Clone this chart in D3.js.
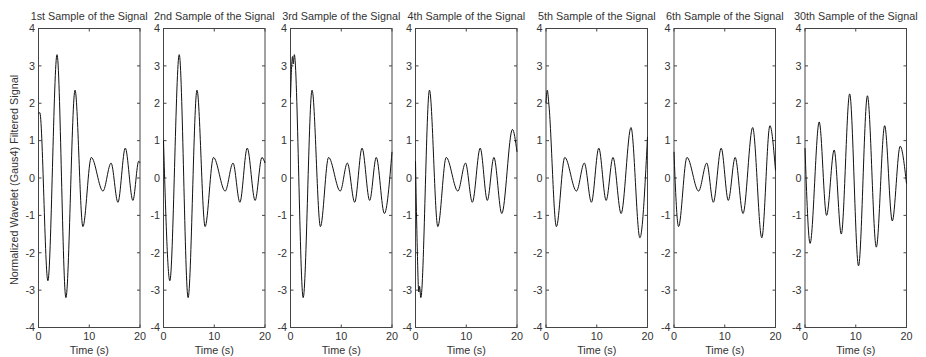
<!DOCTYPE html>
<html><head><meta charset="utf-8">
<script src="https://cdn.jsdelivr.net/npm/d3@7"></script>
<style>body{margin:0;background:#fff}svg{display:block}</style>
</head><body><svg id="c" width="926" height="357"></svg>
<script>
// ---- data ----
const panelTitles = ["1st Sample of the Signal","2nd Sample of the Signal","3rd Sample of the Signal",
  "4th Sample of the Signal","5th Sample of the Signal","6th Sample of the Signal","30th Sample of the Signal"];
const xTicks = [0, 10, 20];
const yTicks = [-4, -3, -2, -1, 0, 1, 2, 3, 4];
const xLabel = "Time (s)";
const yLabel = "Normalized Wavelet (Gaus4) Filtered Signal";

const s1Time  = [0, 0.25, 1.85, 3.65, 5.4, 7.2, 8.75, 10.4, 12.7, 14.3, 15.65, 17.1, 18.6, 19.75, 20];
const s1Value = [1.72, 1.75, -2.75, 3.3, -3.2, 2.35, -1.3, 0.55, -0.35, 0.4, -0.65, 0.8, -0.6, 0.45, 0.4];
const s2Time  = [0, 1.25, 3.1, 4.85, 6.6, 8.2, 9.85, 12.15, 13.7, 15.05, 16.5, 18.05, 19.4, 20];
const s2Value = [1.0, -2.75, 3.3, -3.2, 2.35, -1.3, 0.55, -0.35, 0.4, -0.65, 0.8, -0.6, 0.55, 0.4];
const s3Time  = [0, 0.4, 0.55, 0.75, 2.5, 4.25, 5.9, 7.5, 9.8, 11.2, 12.65, 14.1, 15.6, 16.9, 18.5, 20];
const s3Value = [2.15, 3.25, 3.05, 3.3, -3.2, 2.35, -1.3, 0.55, -0.35, 0.4, -0.65, 0.8, -0.6, 0.55, -0.95, 0.7];
const s4Time  = [0, 0.3, 0.65, 0.8, 1.05, 2.75, 4.4, 6.05, 8.35, 9.85, 11.2, 12.75, 14.15, 15.45, 17.0, 19.1, 20];
const s4Value = [0.45, -1.6, -3.05, -2.9, -3.2, 2.35, -1.3, 0.55, -0.35, 0.4, -0.65, 0.8, -0.6, 0.55, -0.95, 1.3, 0.7];
const s5Time  = [0, 0.25, 0.55, 2.05, 3.7, 6.0, 7.55, 8.95, 10.4, 11.85, 13.2, 14.8, 16.75, 18.5, 20];
const s5Value = [2.0, 2.35, 2.0, -1.3, 0.55, -0.35, 0.4, -0.65, 0.8, -0.6, 0.55, -0.95, 1.35, -1.6, 1.1];
const s6Time  = [0, 0.2, 0.9, 2.55, 4.85, 6.45, 7.75, 9.3, 10.7, 12.05, 13.6, 15.5, 17.3, 18.9, 20];
const s6Value = [0.7, 0.0, -1.3, 0.55, -0.35, 0.4, -0.65, 0.8, -0.6, 0.55, -0.95, 1.35, -1.6, 1.4, 0.2];
const s30Time  = [0, 1.0, 2.8, 4.25, 5.75, 7.15, 8.8, 10.55, 12.3, 14.05, 15.7, 17.2, 18.75, 20];
const s30Value = [0.8, -1.75, 1.5, -1.0, 0.75, -1.5, 2.25, -2.35, 2.2, -1.85, 1.4, -1.15, 0.85, -0.15];

const seriesTimes  = [s1Time, s2Time, s3Time, s4Time, s5Time, s6Time, s30Time];
const seriesValues = [s1Value, s2Value, s3Value, s4Value, s5Value, s6Value, s30Value];

// ---- layout ----
const panelLefts = [38.5, 163.5, 290.5, 415.5, 546, 674, 805];
const panelWidth = 101.5;
const plotTop = 28.5, plotBottom = 327.5;
const font = "Arial, 'Liberation Sans', sans-serif";
const textColor = "#333";
const fontSize = 10.8;
const tickLen = 3;

const svg = d3.select("#c");

svg.append("text")
  .attr("transform", `translate(17.5,${(plotTop + plotBottom) / 2 + 2}) rotate(-90)`)
  .attr("text-anchor", "middle")
  .attr("font-family", font).attr("font-size", fontSize).attr("fill", textColor)
  .text(yLabel);

panelTitles.forEach((title, i) => {
  const x0 = panelLefts[i], x1 = x0 + panelWidth;
  const x = d3.scaleLinear().domain([0, 20]).range([x0, x1]);
  const y = d3.scaleLinear().domain([-4, 4]).range([plotBottom, plotTop]);
  const g = svg.append("g");

  g.append("rect").attr("x", x0).attr("y", plotTop)
    .attr("width", panelWidth).attr("height", plotBottom - plotTop)
    .attr("fill", "none").attr("stroke", "#444").attr("stroke-width", 1);

  xTicks.forEach(t => {
    g.append("line").attr("x1", x(t)).attr("x2", x(t)).attr("y1", plotBottom).attr("y2", plotBottom - tickLen)
      .attr("stroke", "#444");
    g.append("line").attr("x1", x(t)).attr("x2", x(t)).attr("y1", plotTop).attr("y2", plotTop + tickLen)
      .attr("stroke", "#444");
    g.append("text").attr("x", x(t)).attr("y", plotBottom + 12.5)
      .attr("text-anchor", "middle").attr("font-family", font).attr("font-size", fontSize).attr("fill", textColor)
      .text(t);
  });
  yTicks.forEach(v => {
    g.append("line").attr("x1", x0).attr("x2", x0 + tickLen).attr("y1", y(v)).attr("y2", y(v))
      .attr("stroke", "#444");
    g.append("line").attr("x1", x1).attr("x2", x1 - tickLen).attr("y1", y(v)).attr("y2", y(v))
      .attr("stroke", "#444");
    g.append("text").attr("x", x0 - 3.5).attr("y", y(v)).attr("dy", "0.35em")
      .attr("text-anchor", "end").attr("font-family", font).attr("font-size", fontSize).attr("fill", textColor)
      .text(v);
  });

  g.append("text").attr("x", (x0 + x1) / 2).attr("y", 19.5)
    .attr("text-anchor", "middle").attr("font-family", font).attr("font-size", fontSize).attr("fill", textColor)
    .text(title);
  g.append("text").attr("x", (x0 + x1) / 2).attr("y", 353.5)
    .attr("text-anchor", "middle").attr("font-family", font).attr("font-size", fontSize).attr("fill", textColor)
    .text(xLabel);

  const pts = seriesTimes[i].map((t, k) => [t, seriesValues[i][k]]);
  const line = d3.line().x(d => x(d[0])).y(d => y(d[1])).curve(d3.curveMonotoneX);
  g.append("path").attr("d", line(pts))
    .attr("fill", "none").attr("stroke", "#111").attr("stroke-width", 1);
});
</script>
</body></html>
